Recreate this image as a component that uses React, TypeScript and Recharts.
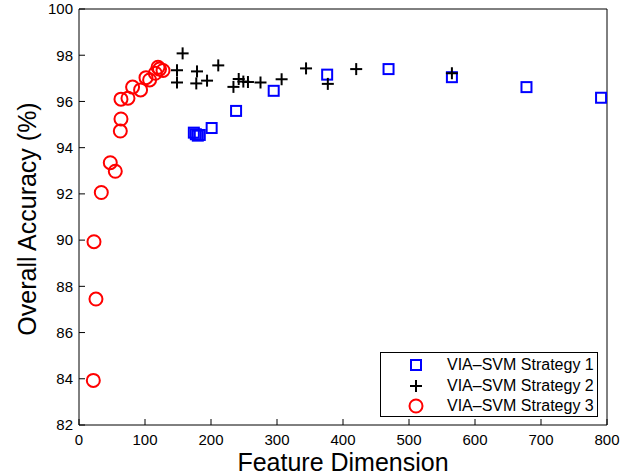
import { ScatterChart, Scatter, XAxis, YAxis, Legend, Label } from 'recharts'

const xTicks = [0, 100, 200, 300, 400, 500, 600, 700, 800]
const yTicks = [82, 84, 86, 88, 90, 92, 94, 96, 98, 100]

// VIA-SVM Strategy 1 (blue squares)
const s1Dim = [174, 177, 180, 183, 201, 238, 295, 376, 469, 565, 678, 791]
const s1Acc = [94.65, 94.58, 94.52, 94.55, 94.85, 95.59, 96.46, 97.16, 97.4, 97.05, 96.62, 96.16]

// VIA-SVM Strategy 2 (black plus)
const s2Dim = [148.5, 148.5, 157, 177.7, 178.8, 194, 211, 234, 242, 249, 256, 275, 307, 344, 377, 420, 565]
const s2Acc = [97.35, 96.82, 98.08, 96.78, 97.3, 96.9, 97.56, 96.63, 96.97, 96.86, 96.84, 96.82, 96.96, 97.43, 96.76, 97.4, 97.22]

// VIA-SVM Strategy 3 (red circles)
const s3Dim = [21.7, 25.7, 22.7, 33.8, 47.4, 55, 62.6, 63.6, 63.6, 74.2, 81.2, 93.3, 101.5, 107, 115.6, 119.7, 122, 127.3]
const s3Acc = [83.93, 87.45, 89.93, 92.06, 93.35, 92.98, 94.72, 95.24, 96.1, 96.14, 96.62, 96.5, 97.03, 96.93, 97.22, 97.48, 97.4, 97.34]

const seriesNames = ['VIA\u2013SVM Strategy 1', 'VIA\u2013SVM Strategy 2', 'VIA\u2013SVM Strategy 3']

const toPoints = (xs: number[], ys: number[]) => xs.map((x, i) => ({ x, y: ys[i] }))

const s1 = toPoints(s1Dim, s1Acc)
const s2 = toPoints(s2Dim, s2Acc)
const s3 = toPoints(s3Dim, s3Acc)

const font = '"Liberation Sans", Arial, Helvetica, sans-serif'
const tickFont = { fontSize: 15, fontFamily: font, fill: '#000' }

const Square = (props: any) => {
    const { cx, cy } = props
    return <rect x={cx - 5} y={cy - 5} width={10} height={10} fill="none" stroke="#0000ff" strokeWidth={2} />
}

const Plus = (props: any) => {
    const { cx, cy } = props
    return (
        <g stroke="#000" strokeWidth={2}>
            <line x1={cx - 6} x2={cx + 6} y1={cy} y2={cy} />
            <line x1={cx} x2={cx} y1={cy - 6} y2={cy + 6} />
        </g>
    )
}

const Circle = (props: any) => {
    const { cx, cy } = props
    return <circle cx={cx} cy={cy} r={6.5} fill="none" stroke="#ff0000" strokeWidth={2} />
}

const markers = [Square, Plus, Circle]

const YTitle = (props: any) => {
    const { viewBox } = props
    const cx = viewBox.x + 27
    const cy = viewBox.y + viewBox.height / 2 + 2
    return (
        <text
            x={cx}
            y={cy}
            transform={`rotate(-90, ${cx}, ${cy})`}
            textAnchor="middle"
            dominantBaseline="central"
            fontSize={25}
            fontFamily={font}
            fill="#000"
        >
            Overall Accuracy (%)
        </text>
    )
}

const LegendBox = () => (
    <div
        style={{
            border: '1px solid #000',
            background: '#fff',
            boxSizing: 'border-box',
            width: 218,
            height: 65,
            padding: '2px 0',
            fontFamily: font,
            fontSize: 16,
        }}
    >
        {seriesNames.map((name, i) => {
            const M = markers[i]
            return (
                <div key={name} style={{ display: 'flex', alignItems: 'center', height: 20.5 }}>
                    <svg width={60} height={20} style={{ flex: 'none' }}>
                        <M cx={35} cy={10} />
                    </svg>
                    <span style={{ marginLeft: 6, whiteSpace: 'nowrap' }}>{name}</span>
                </div>
            )
        })}
    </div>
)

export default function App() {
    return (
        <div style={{ position: 'absolute', left: 0, top: 0, background: '#fff' }}>
            <ScatterChart width={635} height={474} margin={{ top: 8, right: 27, bottom: 0, left: 0 }}>
                <XAxis
                    dataKey="x"
                    type="number"
                    domain={[0, 800]}
                    ticks={xTicks}
                    height={49}
                    tickSize={-6}
                    tickMargin={15}
                    tick={tickFont}
                    stroke="#000"
                    allowDataOverflow
                >
                    <Label
                        value="Feature Dimension"
                        position="insideBottom"
                        offset={3}
                        style={{ fontSize: 25, fontFamily: font, fill: '#000' }}
                    />
                </XAxis>
                <XAxis
                    xAxisId="top"
                    orientation="top"
                    type="number"
                    domain={[0, 800]}
                    ticks={xTicks}
                    height={1}
                    tick={false}
                    tickSize={-6}
                    stroke="#000"
                    allowDataOverflow
                />
                <YAxis
                    dataKey="y"
                    type="number"
                    domain={[82, 100]}
                    ticks={yTicks}
                    width={79}
                    tickSize={-6}
                    tickMargin={12}
                    tick={tickFont}
                    stroke="#000"
                    allowDataOverflow
                >
                    <Label content={<YTitle />} />
                </YAxis>
                <YAxis
                    yAxisId="right"
                    orientation="right"
                    type="number"
                    domain={[82, 100]}
                    ticks={yTicks}
                    width={1}
                    tick={false}
                    tickSize={-6}
                    stroke="#000"
                    allowDataOverflow
                />
                <Legend
                    layout="horizontal"
                    verticalAlign="middle"
                    align="center"
                    content={<LegendBox />}
                    wrapperStyle={{ left: 380, top: 352, width: 218, height: 65 }}
                />
                <Scatter name={seriesNames[0]} data={s1} shape={<Square />} isAnimationActive={false} />
                <Scatter name={seriesNames[1]} data={s2} shape={<Plus />} isAnimationActive={false} />
                <Scatter name={seriesNames[2]} data={s3} shape={<Circle />} isAnimationActive={false} />
            </ScatterChart>
        </div>
    )
}
